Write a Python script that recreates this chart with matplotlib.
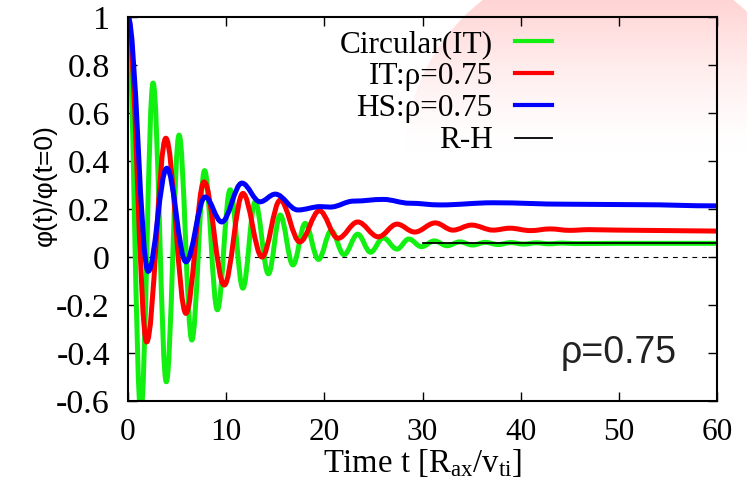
import numpy as np
import matplotlib
matplotlib.use("Agg")
import matplotlib.pyplot as plt
from matplotlib.path import Path
from matplotlib.patches import PathPatch, Circle
from matplotlib.lines import Line2D

plt.rcParams["font.family"] = ["Liberation Serif", "DejaVu Serif"]
plt.rcParams["mathtext.fontset"] = "custom"
plt.rcParams["mathtext.rm"] = "Liberation Serif"
plt.rcParams["mathtext.it"] = "Liberation Serif:italic"
plt.rcParams["lines.scale_dashes"] = False

# turning points of each curve (time, phi/phi0)
green_t = [0, 1.3, 2.55, 3.9, 5.2, 6.5, 7.8, 9.1, 10.4, 11.7, 12.95, 14.3, 15.5,
           16.8, 18.05, 19.4, 20.7, 22.0, 23.4, 24.7, 26.0, 27.4, 28.6, 29.9,
           31.2, 32.5, 33.8, 35.1, 36.4, 37.7, 39.0, 40.3, 41.6, 42.9, 44.2,
           45.5, 50, 55, 60]
green_v = [1.0, -0.65, 0.725, -0.52, 0.508, -0.346, 0.36, -0.22, 0.28, -0.13,
           0.23, -0.07, 0.175, -0.033, 0.14, -0.01, 0.11, 0.01, 0.095, 0.02,
           0.08, 0.033, 0.075, 0.043, 0.067, 0.047, 0.063, 0.05, 0.061, 0.052,
           0.06, 0.054, 0.059, 0.055, 0.058, 0.056, 0.057, 0.057, 0.057]

red_t = [0, 1.9, 3.85, 5.9, 7.75, 9.8, 11.7, 13.65, 15.5, 17.5, 19.5, 21.4,
         23.4, 25.5, 27.4, 29.2, 31.3, 33.1, 35.0, 37.2, 38.9, 41, 43, 45, 47,
         50, 55, 60]
red_v = [1.0, -0.354, 0.495, -0.235, 0.313, -0.117, 0.265, 0.0, 0.237, 0.063,
         0.193, 0.078, 0.146, 0.084, 0.137, 0.104, 0.142, 0.112, 0.133, 0.112,
         0.12, 0.11, 0.117, 0.111, 0.114, 0.112, 0.11, 0.108]

blue_t = [0, 2.05, 3.95, 5.9, 7.85, 9.55, 11.6, 13.45, 15.0, 17.3, 19.6, 20.6,
          23.0, 26.0, 28.7, 31.8, 37.2, 44.7, 52, 60]
blue_v = [1.0, -0.06, 0.37, -0.02, 0.25, 0.146, 0.308, 0.23, 0.262, 0.196,
          0.21, 0.208, 0.233, 0.24, 0.224, 0.217, 0.226, 0.22, 0.218, 0.213]

rh_t = [30, 60]
rh_v = [0.058, 0.058]

labels = ["Circular(IT)", "IT:\u03c1=0.75", "HS:\u03c1=0.75", "R-H"]
colors = ["#11f011", "#ff0000", "#0000ff", "black"]

xticks = [0, 10, 20, 30, 40, 50, 60]
yticks = [-0.6, -0.4, -0.2, 0, 0.2, 0.4, 0.6, 0.8, 1]
ytick_labels = ["-0.6", "-0.4", "-0.2", "0", "0.2", "0.4", "0.6", "0.8", "1"]


def smooth_path(t, v):
    # cubic segments with flat tangents at every turning point
    verts = [(t[0], v[0])]
    codes = [Path.MOVETO]
    for i in range(len(t) - 1):
        d = t[i + 1] - t[i]
        verts += [(t[i] + 0.363 * d, v[i]), (t[i + 1] - 0.363 * d, v[i + 1]),
                  (t[i + 1], v[i + 1])]
        codes += [Path.CURVE4] * 3
    return Path(verts, codes)


fig = plt.figure(figsize=(7.47, 4.86), dpi=100, facecolor="white")

# faint pink disc of the slide background, fading downwards
bg = fig.add_axes([0, 0, 1, 1], zorder=-5)
bg.set_xlim(0, 747)
bg.set_ylim(486, 0)
bg.axis("off")
yy = np.linspace(0, 486, 400)[:, None] * np.ones((1, 10))
a = np.clip(1 - yy / 150.0, 0, 1) ** 1.4
img = np.dstack([np.ones_like(a), 1 - 0.17 * a, 1 - 0.17 * a])
im = bg.imshow(img, extent=(0, 747, 486, 0), aspect="auto")
im.set_clip_path(Circle((608, 161), 204, transform=bg.transData))

ax = fig.add_axes([0.1714, 0.1749, 0.7884, 0.7901])
ax.patch.set_alpha(0)

ax.axhline(0, color="black", lw=0.8, dashes=(3.5, 3.5), zorder=1)
for t, v, c in [(green_t, green_v, colors[0]), (red_t, red_v, colors[1]),
                (blue_t, blue_v, colors[2])]:
    p = PathPatch(smooth_path(t, v), fill=False, edgecolor=c, lw=3.6,
                  capstyle="round", joinstyle="round", zorder=2)
    ax.add_patch(p)
ax.plot(rh_t, rh_v, color="black", lw=1.3, zorder=3)

ax.set_xlim(0, 60)
ax.set_ylim(-0.6, 1)
ax.set_xticks(xticks)
ax.set_yticks(yticks)
ax.set_yticklabels(ytick_labels)
for s in ax.spines.values():
    s.set_linewidth(1.5)
ax.tick_params(direction="in", length=6.5, width=1, top=True, right=True)
ax.tick_params(axis="y", pad=13, labelsize=24.5)
ax.tick_params(axis="x", pad=12, labelsize=22.5)

ax.set_xlabel(r"Time t [R$_{\rm ax}$/v$_{\rm ti}$]", fontsize=23.5, labelpad=0)
ax.set_ylabel("\u03c6(t)/\u03c6(t=0)", family="Liberation Sans", fontsize=19)
ax.yaxis.set_label_coords(-0.12, 0.5625)

ax.text(0.932, 0.099, "\u03c1=0.75", transform=ax.transAxes, ha="right",
        va="baseline", family="Liberation Sans", fontsize=27, color="#222222")

handles = [Line2D([], [], color=c, lw=3 if i < 3 else 1.3) for i, c in enumerate(colors)]
ax.legend(handles, labels, loc="upper right", bbox_to_anchor=(0.72, 0.966),
          frameon=False, markerfirst=False, handlelength=1.2,
          handletextpad=0.7, labelspacing=0.1, borderpad=0, borderaxespad=0,
          prop={"family": "Liberation Serif", "size": 22.5})

fig.savefig("out.png", dpi=100, facecolor="white")
